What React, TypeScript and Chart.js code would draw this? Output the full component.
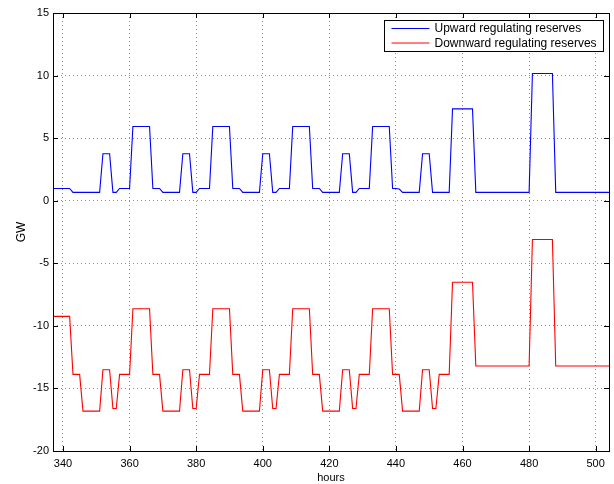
import React, { useEffect, useRef } from 'react';
import { Chart, registerables } from 'chart.js';

Chart.register(...registerables);

// one value per hour, 337 .. 504
const hours = [
  337, 338, 339, 340, 341, 342, 343, 344, 345, 346, 347, 348, 349, 350, 351, 352, 353, 354, 355, 356, 357, 358, 359, 360,
  361, 362, 363, 364, 365, 366, 367, 368, 369, 370, 371, 372, 373, 374, 375, 376, 377, 378, 379, 380, 381, 382, 383, 384,
  385, 386, 387, 388, 389, 390, 391, 392, 393, 394, 395, 396, 397, 398, 399, 400, 401, 402, 403, 404, 405, 406, 407, 408,
  409, 410, 411, 412, 413, 414, 415, 416, 417, 418, 419, 420, 421, 422, 423, 424, 425, 426, 427, 428, 429, 430, 431, 432,
  433, 434, 435, 436, 437, 438, 439, 440, 441, 442, 443, 444, 445, 446, 447, 448, 449, 450, 451, 452, 453, 454, 455, 456,
  457, 458, 459, 460, 461, 462, 463, 464, 465, 466, 467, 468, 469, 470, 471, 472, 473, 474, 475, 476, 477, 478, 479, 480,
  481, 482, 483, 484, 485, 486, 487, 488, 489, 490, 491, 492, 493, 494, 495, 496, 497, 498, 499, 500, 501, 502, 503, 504,
];

const upwardReserves = [
  0.98, 0.98, 0.98, 0.98, 0.98, 0.98, 0.67, 0.67, 0.67, 0.67, 0.67, 0.67, 0.67, 0.67, 0.67, 3.75, 3.75, 3.75, 0.67, 0.67, 0.98, 0.98, 0.98, 0.98,
  5.93, 5.93, 5.93, 5.93, 5.93, 5.93, 0.98, 0.98, 0.98, 0.67, 0.67, 0.67, 0.67, 0.67, 0.67, 3.75, 3.75, 3.75, 0.67, 0.67, 0.98, 0.98, 0.98, 0.98,
  5.93, 5.93, 5.93, 5.93, 5.93, 5.93, 0.98, 0.98, 0.98, 0.67, 0.67, 0.67, 0.67, 0.67, 0.67, 3.75, 3.75, 3.75, 0.67, 0.67, 0.98, 0.98, 0.98, 0.98,
  5.93, 5.93, 5.93, 5.93, 5.93, 5.93, 0.98, 0.98, 0.98, 0.67, 0.67, 0.67, 0.67, 0.67, 0.67, 3.75, 3.75, 3.75, 0.67, 0.67, 0.98, 0.98, 0.98, 0.98,
  5.93, 5.93, 5.93, 5.93, 5.93, 5.93, 0.98, 0.98, 0.93, 0.67, 0.67, 0.67, 0.67, 0.67, 0.67, 3.75, 3.75, 3.75, 0.67, 0.67, 0.67, 0.67, 0.67, 0.67,
  7.34, 7.34, 7.34, 7.34, 7.34, 7.34, 7.34, 0.67, 0.67, 0.67, 0.67, 0.67, 0.67, 0.67, 0.67, 0.67, 0.67, 0.67, 0.67, 0.67, 0.67, 0.67, 0.67, 0.67,
  10.16, 10.16, 10.16, 10.16, 10.16, 10.16, 10.16, 0.67, 0.67, 0.67, 0.67, 0.67, 0.67, 0.67, 0.67, 0.67, 0.67, 0.67, 0.67, 0.67, 0.67, 0.67, 0.67, 0.67,
];

const downwardReserves = [
  -9.24, -9.24, -9.24, -9.24, -9.24, -9.24, -13.88, -13.88, -13.88, -16.81, -16.81, -16.81, -16.81, -16.81, -16.81, -13.51, -13.51, -13.51, -16.6, -16.6, -13.88, -13.88, -13.88, -13.88,
  -8.63, -8.63, -8.63, -8.63, -8.63, -8.63, -13.88, -13.88, -13.88, -16.81, -16.81, -16.81, -16.81, -16.81, -16.81, -13.51, -13.51, -13.51, -16.6, -16.6, -13.88, -13.88, -13.88, -13.88,
  -8.63, -8.63, -8.63, -8.63, -8.63, -8.63, -13.88, -13.88, -13.88, -16.81, -16.81, -16.81, -16.81, -16.81, -16.81, -13.51, -13.51, -13.51, -16.6, -16.6, -13.88, -13.88, -13.88, -13.88,
  -8.63, -8.63, -8.63, -8.63, -8.63, -8.63, -13.88, -13.88, -13.88, -16.81, -16.81, -16.81, -16.81, -16.81, -16.81, -13.51, -13.51, -13.51, -16.6, -16.6, -13.88, -13.88, -13.88, -13.88,
  -8.63, -8.63, -8.63, -8.63, -8.63, -8.63, -13.88, -13.88, -13.88, -16.81, -16.81, -16.81, -16.81, -16.81, -16.81, -13.51, -13.51, -13.51, -16.6, -16.6, -13.88, -13.88, -13.88, -13.88,
  -6.52, -6.52, -6.52, -6.52, -6.52, -6.52, -6.52, -13.21, -13.21, -13.21, -13.21, -13.21, -13.21, -13.21, -13.21, -13.21, -13.21, -13.21, -13.21, -13.21, -13.21, -13.21, -13.21, -13.21,
  -3.1, -3.1, -3.1, -3.1, -3.1, -3.1, -3.1, -13.21, -13.21, -13.21, -13.21, -13.21, -13.21, -13.21, -13.21, -13.21, -13.21, -13.21, -13.21, -13.21, -13.21, -13.21, -13.21, -13.21,
];

const xTicks = [340, 360, 380, 400, 420, 440, 460, 480, 500];
const seriesLabels = ['Upward regulating reserves', 'Downward regulating reserves'];
const seriesColors = ['#0000ff', '#ff0000'];

const FONT = "'Liberation Sans', Arial, Helvetica, sans-serif";

// matlab look: closed box, inward ticks on all sides, boxed legend top right
const matlabAxes = {
  id: 'matlabAxes',
  afterDatasetsDraw(chart: any) {
    const { ctx, chartArea: a, scales } = chart;
    const tick = 5;
    ctx.save();
    ctx.strokeStyle = '#000';
    ctx.lineWidth = 1;
    ctx.beginPath();
    scales.x.ticks.forEach((t: any) => {
      const px = Math.round(scales.x.getPixelForValue(t.value)) + 0.5;
      ctx.moveTo(px, a.bottom);
      ctx.lineTo(px, a.bottom - tick);
      ctx.moveTo(px, a.top);
      ctx.lineTo(px, a.top + tick);
    });
    scales.y.ticks.forEach((t: any) => {
      const py = Math.round(scales.y.getPixelForValue(t.value)) + 0.5;
      ctx.moveTo(a.left, py);
      ctx.lineTo(a.left + tick, py);
      ctx.moveTo(a.right, py);
      ctx.lineTo(a.right - tick, py);
    });
    ctx.stroke();
    ctx.strokeRect(Math.round(a.left) + 0.5, Math.round(a.top) + 0.5, Math.round(a.width), Math.round(a.height));

    // legend
    const boxW = 219;
    const boxH = 31;
    const bx = Math.round(a.right - 6 - boxW) + 0.5;
    const by = Math.round(a.top + 7) + 0.5;
    ctx.fillStyle = '#fff';
    ctx.fillRect(bx, by, boxW, boxH);
    ctx.strokeStyle = '#000';
    ctx.strokeRect(bx, by, boxW, boxH);
    ctx.font = `12px ${FONT}`;
    ctx.textBaseline = 'middle';
    ctx.textAlign = 'left';
    chart.data.datasets.forEach((ds: any, i: number) => {
      const ly = by + 8 + i * 14.5;
      ctx.strokeStyle = ds.borderColor;
      ctx.beginPath();
      ctx.moveTo(bx + 7, ly);
      ctx.lineTo(bx + 45, ly);
      ctx.stroke();
      ctx.fillStyle = '#000';
      ctx.fillText(ds.label, bx + 50, ly + 0.5);
    });
    ctx.restore();
  },
};

export default function App() {
  const canvasRef = useRef<HTMLCanvasElement>(null);
  const chartRef = useRef<Chart | null>(null);

  useEffect(() => {
    if (!canvasRef.current) return;
    if (chartRef.current) chartRef.current.destroy();

    const ctx = canvasRef.current.getContext('2d');
    if (!ctx) return;

    chartRef.current = new Chart(ctx, {
      type: 'line',
      data: {
        datasets: [
          {
            label: seriesLabels[0],
            data: hours.map((h, i) => ({ x: h, y: upwardReserves[i] })),
            borderColor: seriesColors[0],
            borderWidth: 1.1,
            pointRadius: 0,
            tension: 0,
            fill: false,
          },
          {
            label: seriesLabels[1],
            data: hours.map((h, i) => ({ x: h, y: downwardReserves[i] })),
            borderColor: seriesColors[1],
            borderWidth: 1.1,
            pointRadius: 0,
            tension: 0,
            fill: false,
          },
        ],
      },
      options: {
        animation: false,
        responsive: true,
        maintainAspectRatio: false,
        layout: { padding: { top: 13, right: 5, left: 0, bottom: 0 } },
        plugins: {
          legend: { display: false },
          tooltip: { enabled: false },
        },
        scales: {
          x: {
            type: 'linear',
            min: 337,
            max: 504,
            afterBuildTicks: (scale: any) => {
              scale.ticks = xTicks.map(v => ({ value: v }));
            },
            afterFit: (scale: any) => {
              scale.height = 33;
            },
            ticks: {
              color: '#000',
              padding: 6,
              maxRotation: 0,
              autoSkip: false,
              font: { family: FONT, size: 11 },
            },
            grid: {
              color: 'rgba(0, 0, 0, 0.45)',
              lineWidth: 1,
              drawTicks: false,
            },
            border: { display: false, dash: [1, 3] },
            title: {
              display: true,
              text: 'hours',
              color: '#000',
              padding: { top: 0, bottom: 1 },
              font: { family: FONT, size: 11, lineHeight: 1 },
            },
          },
          y: {
            type: 'linear',
            min: -20,
            max: 15,
            afterFit: (scale: any) => {
              scale.width = 53;
            },
            ticks: {
              stepSize: 5,
              color: '#000',
              padding: 4,
              font: { family: FONT, size: 11 },
            },
            grid: {
              color: 'rgba(0, 0, 0, 0.45)',
              lineWidth: 1,
              drawTicks: false,
            },
            border: { display: false, dash: [1, 3] },
            title: {
              display: true,
              text: 'GW',
              color: '#000',
              padding: { top: 14, bottom: 0 },
              font: { family: FONT, size: 12 },
            },
          },
        },
      },
      plugins: [matlabAxes],
    } as any);

    return () => {
      if (chartRef.current) {
        chartRef.current.destroy();
        chartRef.current = null;
      }
    };
  }, []);

  return (
    <div style={{ position: 'absolute', left: 0, top: 0, width: 614, height: 484, background: '#fff' }}>
      <canvas ref={canvasRef}></canvas>
    </div>
  );
}
